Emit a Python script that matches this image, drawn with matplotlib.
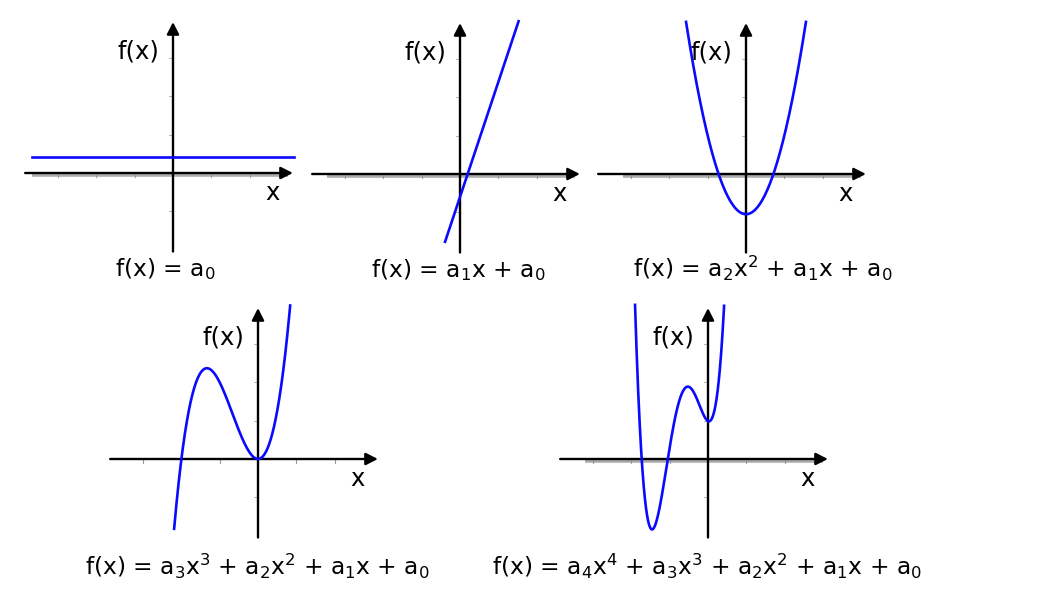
import numpy as np
import matplotlib.pyplot as plt

plt.rcParams['font.family'] = ['DejaVu Sans']

W, H = 1058, 595
UNIT = 38.3  # pixels per unit on every panel

# polynomial coefficients (highest power first)
const_coef = [0.42]
linear_coef = [3.0, -0.6]
quad_coef = [2.05, 0.0, -1.05]
cubic_coef = [2.0, 4.0, 0.0, 0.0]
quartic_coef = [6.733, 17.613, 9.688, -0.508, 0.99]

# visible x range of each curve
const_range = [-3.68, 3.16]
linear_range = [-0.39, 1.53]
quad_range = [-1.565, 1.565]
cubic_range = [-2.19, 0.84]
quartic_range = [-1.905, 0.42]


def m(s):
    return r'$\mathregular{' + s + '}$'


formulas = [
    "f(x) = " + m("a_0"),
    "f(x) = " + m("a_1x") + " + " + m("a_0"),
    "f(x) = " + m("a_2x^2") + " + " + m("a_1x") + " + " + m("a_0"),
    "f(x) = " + m("a_3x^3") + " + " + m("a_2x^2") + " + " + m("a_1x")
    + " + " + m("a_0"),
    "f(x) = " + m("a_4x^4") + " + " + m("a_3x^3") + " + " + m("a_2x^2")
    + " + " + m("a_1x") + " + " + m("a_0"),
]

panels = [
    dict(coef=const_coef, rng=const_range, origin=(173, 173), band=-3.68,
         fx=-0.2, fy=-2.68),
    dict(coef=linear_coef, rng=linear_range, origin=(460, 174), band=-3.47,
         fx=-0.05, fy=-2.68),
    dict(coef=quad_coef, rng=quad_range, origin=(746, 174), band=-3.21,
         fx=0.44, fy=-2.68),
    dict(coef=cubic_coef, rng=cubic_range, origin=(258, 459), band=None,
         fx=-0.01, fy=-3.04),
    dict(coef=quartic_coef, rng=quartic_range, origin=(708, 459), band=-3.21,
         fx=-0.03, fy=-3.04),
]

fig = plt.figure(figsize=(W / 100, H / 100), dpi=100)

x_lo, x_hi = -4.0, 3.5
y_lo, y_hi = -2.4, 4.2
FS = 17.5
FS_FORMULA = 16.8

for p, text in zip(panels, formulas):
    ox, oy = p['origin']
    rect = [(ox + x_lo * UNIT) / W, (H - (oy - y_lo * UNIT)) / H,
            (x_hi - x_lo) * UNIT / W, (y_hi - y_lo) * UNIT / H]
    ax = fig.add_axes(rect)
    ax.set_xlim(x_lo, x_hi)
    ax.set_ylim(y_lo, y_hi)
    ax.axis('off')

    # grey grid band + tick marks under the x axis
    if p['band'] is not None:
        ax.plot([p['band'], 3.0], [-0.04, -0.04], color='#adadad', lw=2.6,
                solid_capstyle='butt', zorder=1)
    for t in [-3, -2, -1, 1, 2]:
        ax.plot([t, t], [-0.02, -0.1], color='#999999', lw=0.8, zorder=1)
    for t in [-1, 1, 2, 3]:
        ax.plot([-0.1, 0], [t, t], color='#b5b5b5', lw=0.7, zorder=1)

    arrow = dict(arrowstyle='-|>,head_length=0.55,head_width=0.28',
                 color='black', lw=1.7, mutation_scale=13,
                 shrinkA=0, shrinkB=0)
    ax.annotate('', xy=(3.13, 0), xytext=(-3.86, 0), arrowprops=arrow,
                zorder=2)
    ax.annotate('', xy=(0, 3.94), xytext=(0, -2.05), arrowprops=arrow,
                zorder=2)

    xs = np.linspace(p['rng'][0], p['rng'][1], 400)
    ax.plot(xs, np.polyval(p['coef'], xs), color='#0a0aff', lw=1.9,
            zorder=3)

    ax.text(-0.9, 3.17, 'f(x)', fontsize=FS, ha='center', va='center',
            clip_on=False)
    ax.text(2.6, -0.52, 'x', fontsize=FS, ha='center', va='center',
            clip_on=False)
    ax.text(p['fx'], p['fy'], text, fontsize=FS_FORMULA, ha='center',
            va='baseline', clip_on=False)

fig.savefig('out.png', dpi=100)
